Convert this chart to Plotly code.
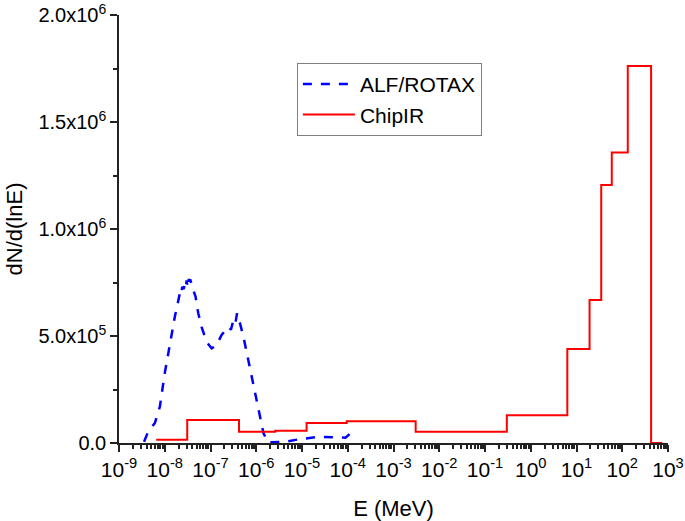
import plotly.graph_objects as go

# ALF/ROTAX spectrum
alf_E = [3.53e-9, 4.33e-9, 6.07e-9, 7.82e-9, 1.0e-8, 1.29e-8, 1.66e-8, 2.0e-8,
         2.14e-8, 2.3e-8, 2.4e-8, 2.6e-8, 2.76e-8, 2.9e-8, 3.0e-8, 3.1e-8, 3.26e-8,
         3.4e-8, 3.6e-8, 3.99e-8, 4.3e-8, 4.71e-8, 5.4e-8,
         6.38e-8, 8.2e-8, 1.06e-7, 1.36e-7, 1.75e-7, 2.1e-7, 2.45e-7, 2.8e-7,
         3.1e-7, 3.44e-7, 3.8e-7, 4.07e-7, 4.4e-7, 5.24e-7, 6.75e-7, 8.69e-7,
         1.12e-6, 1.44e-6, 1.85e-6, 2.19e-6, 4.31e-6, 8.41e-6, 2.31e-5, 8.9e-5, 1.15e-4]
alf_N = [6e3, 5.3e4, 9.3e4, 1.7e5, 3.26e5, 4.66e5, 5.9e5, 6.7e5,
         7.0e5, 6.9e5, 7.3e5, 7.2e5, 7.46e5, 7.3e5, 7.6e5, 7.4e5, 7.77e5,
         7.55e5, 7.65e5, 7.3e5, 7.1e5, 6.84e5, 6.06e5,
         5.43e5, 4.73e5, 4.42e5, 4.58e5, 5.05e5, 5.25e5, 5.43e5, 5.3e5,
         5.67e5, 5.5e5, 6.06e5, 5.75e5, 5.6e5, 4.97e5, 3.88e5, 2.79e5,
         1.54e5, 4.5e4, 1e3, 3e3, 6e3, 1.7e4, 2.9e4, 2.5e4, 4.5e4]

# ChipIR spectrum: bin edges and values
chip_edges = [6.5e-9, 3.1e-8, 4.2e-7, 2.6e-6, 1.26e-5, 9.5e-5, 3.05e-3, 0.3,
              6.3, 19.3, 34.7, 59, 132, 427, 753]
chip_vals = [1.5e4, 1.07e5, 5.3e4, 5.7e4, 9.3e4, 1.02e5, 5.3e4, 1.3e5,
             4.39e5, 6.68e5, 1.206e6, 1.358e6, 1.762e6, 0]

x_tickvals = [10.0 ** k for k in range(-9, 4)]
x_ticktext = ["10<sup>%d</sup>" % k for k in range(-9, 4)]
y_tickvals = [0, 5e5, 1e6, 1.5e6, 2e6]
y_ticktext = ["0.0", "5.0x10<sup>5</sup>", "1.0x10<sup>6</sup>",
              "1.5x10<sup>6</sup>", "2.0x10<sup>6</sup>"]

FONT = "Liberation Sans, Arial, sans-serif"

fig = go.Figure()
fig.add_trace(go.Scatter(
    x=alf_E, y=alf_N, mode="lines", name="ALF/ROTAX",
    line=dict(color="#0000ff", width=2.5, dash="dash"),
))
fig.add_trace(go.Scatter(
    x=chip_edges, y=chip_vals + [chip_vals[-1]], mode="lines", name="ChipIR",
    line=dict(color="#ff0000", width=2, shape="hv"),
))

fig.update_layout(
    width=685, height=521,
    margin=dict(l=119, r=17, t=15, b=78),
    paper_bgcolor="white", plot_bgcolor="white",
    font=dict(family=FONT, size=20, color="black"),
    showlegend=True,
    legend=dict(
        x=0.324, y=0.888, xanchor="left", yanchor="top",
        bordercolor="#808080", borderwidth=1, bgcolor="white",
        font=dict(family=FONT, size=21, color="black"),
        tracegroupgap=0, itemwidth=52,
    ),
)
fig.update_xaxes(
    type="log", range=[-9, 3], automargin=False, ticklabeloverflow="allow",
    tickvals=x_tickvals, ticktext=x_ticktext,
    ticks="outside", ticklen=7, tickwidth=1.5, tickcolor="#222",
    showline=True, linecolor="#222", linewidth=1.5,
    showgrid=False, zeroline=False,
    minor=dict(ticks="outside", ticklen=4, tickcolor="#222", dtick="D1", showgrid=False),
    title=dict(text="E (MeV)", font=dict(family=FONT, size=22), standoff=22),
    tickfont=dict(family=FONT, size=21),
)
fig.update_yaxes(
    range=[0, 2e6], automargin=False, ticklabeloverflow="allow",
    tickvals=y_tickvals, ticktext=y_ticktext,
    ticks="outside", ticklen=7, tickwidth=1.5, tickcolor="#222",
    showline=True, linecolor="#222", linewidth=1.5,
    showgrid=False, zeroline=False,
    minor=dict(ticks="outside", ticklen=4, tickcolor="#222", dtick=2.5e5, showgrid=False),
    title=dict(text="dN/d(lnE)", font=dict(family=FONT, size=22), standoff=10),
    tickfont=dict(family=FONT, size=20),
)

fig.write_html("out.html", config={"displayModeBar": False},
               post_script="document.body.style.margin='0';")
